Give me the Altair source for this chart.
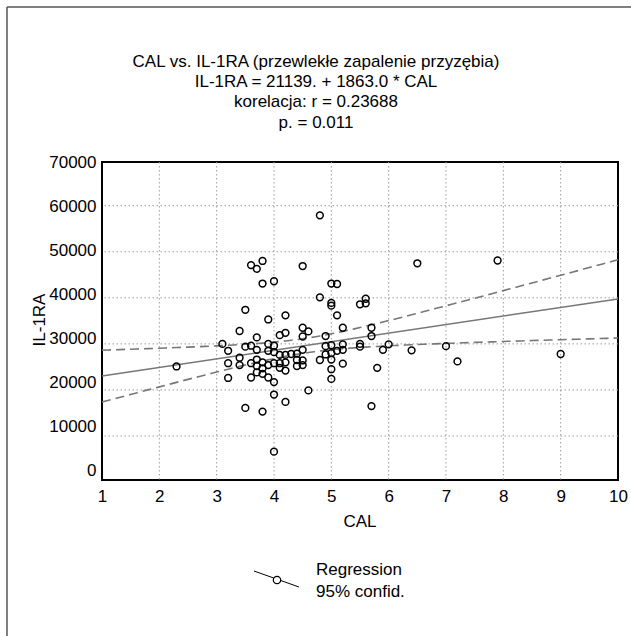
import altair as alt
import pandas as pd
import numpy as np

# ---- data ----
cal = [2.3,
       3.1,
       3.2, 3.2, 3.2,
       3.4, 3.4, 3.4,
       3.5, 3.5, 3.5,
       3.6, 3.6, 3.6, 3.6,
       3.7, 3.7, 3.7, 3.7, 3.7, 3.7,
       3.8, 3.8, 3.8, 3.8, 3.8, 3.8,
       3.9, 3.9, 3.9, 3.9, 3.9,
       4.0, 4.0, 4.0, 4.0, 4.0, 4.0, 4.0,
       4.1, 4.1, 4.1, 4.1,
       4.2, 4.2, 4.2, 4.2, 4.2, 4.2,
       4.3,
       4.4, 4.4, 4.4,
       4.5, 4.5, 4.5, 4.5, 4.5, 4.5,
       4.6, 4.6,
       4.8, 4.8, 4.8,
       4.9, 4.9, 4.9,
       5.0, 5.0, 5.0, 5.0, 5.0, 5.0, 5.0, 5.0,
       5.1, 5.1, 5.1,
       5.2, 5.2, 5.2, 5.2,
       5.5, 5.5, 5.5,
       5.6, 5.6,
       5.7, 5.7, 5.7,
       5.8, 5.9, 6.0, 6.4, 6.5, 7.0, 7.2, 7.9, 9.0]
il1ra = [25100,
         30000,
         28500, 25800, 22600,
         32800, 27000, 25400,
         37400, 29400, 16100,
         47100, 29600, 25800, 22700,
         46300, 31400, 28700, 26600, 25200, 23800,
         48000, 43100, 26000, 24700, 23500, 15300,
         35300, 30000, 28500, 25400, 22700,
         43600, 29600, 28200, 25800, 21700, 19000, 6600,
         31900, 27600, 25800, 24800,
         36200, 32400, 27600, 26000, 24200, 17400,
         27800,
         27900, 26500, 25200,
         46900, 33500, 31600, 28700, 26400, 25400,
         32700, 19900,
         57900, 40100, 26500,
         31700, 29500, 27700,
         43100, 38900, 38300, 29700, 28000, 26600, 24500, 22400,
         43000, 36200, 28500,
         33500, 29900, 28700, 25700,
         38600, 30000, 29400,
         38800, 39800,
         33500, 31700, 16500,
         24800, 28700, 29900, 28600, 47500, 29500, 26200, 48100, 27800]

x_ticks = [1, 2, 3, 4, 5, 6, 7, 8, 9, 10]
y_ticks = [0, 10000, 20000, 30000, 40000, 50000, 60000, 70000]
grid_x = [2, 3, 4, 5, 6, 7, 8, 9]
grid_y = [10000, 20000, 30000, 40000, 50000, 60000]

intercept = 21139.0
slope = 1863.0

title_lines = ["CAL vs. IL-1RA (przewlekłe zapalenie przyzębia)",
               "IL-1RA = 21139. + 1863.0 * CAL",
               "korelacja: r = 0.23688",
               "p. = 0.011"]
legend_labels = ["Regression", "95% confid."]
x_title = "CAL"
y_title = "IL-1RA"

# ---- derived: regression line and 95% confidence band ----
xa = np.array(cal, dtype=float)
ya = np.array(il1ra, dtype=float)
n = len(xa)
xbar = xa.mean()
sxx = ((xa - xbar) ** 2).sum()
resid = ya - (intercept + slope * xa)
s = np.sqrt((resid ** 2).sum() / (n - 2))
tval = 1.985
xg = np.linspace(1, 10, 91)
fit = intercept + slope * xg
hw = tval * s * np.sqrt(1.0 / n + (xg - xbar) ** 2 / sxx)
ci_df = pd.concat([
    pd.DataFrame({"x": xg, "y": fit + hw, "band": "upper"}),
    pd.DataFrame({"x": xg, "y": fit - hw, "band": "lower"}),
])
reg_df = pd.DataFrame({"x": [1.0, 10.0], "y": [intercept + slope * 1, intercept + slope * 10]})
pts = pd.DataFrame({"cal": cal, "il": il1ra})

FONT = "Liberation Sans"
FS = 17
W, H = 516, 318
xs = alt.Scale(domain=[1, 10], nice=False, zero=False)
ys = alt.Scale(domain=[448, 69488], nice=False, zero=False)
one = pd.DataFrame({"a": [0]})

x_axis = alt.Axis(values=x_ticks, format="d", labelFontSize=FS, labelFont=FONT,
                  labelColor="black", labelPadding=8, ticks=False, domain=False,
                  grid=False, title=None, labelFlush=False, labelOverlap=False)

grid_col = "#9a9a9a"
gx = alt.Chart(pd.DataFrame({"g": grid_x})).mark_rule(
    color=grid_col, strokeDash=[1.5, 2.5], strokeWidth=1).encode(
    x=alt.X("g:Q", scale=xs, axis=x_axis))
gy = alt.Chart(pd.DataFrame({"g": grid_y})).mark_rule(
    color=grid_col, strokeDash=[1.5, 2.5], strokeWidth=1).encode(
    y=alt.Y("g:Q", scale=ys, axis=None))

ci = alt.Chart(ci_df).mark_line(color="#777777", strokeDash=[9, 5], strokeWidth=1.6).encode(
    x=alt.X("x:Q", scale=xs, axis=x_axis),
    y=alt.Y("y:Q", scale=ys, axis=None),
    detail="band:N")
reg = alt.Chart(reg_df).mark_line(color="#777777", strokeWidth=1.5).encode(
    x=alt.X("x:Q", scale=xs, axis=x_axis),
    y=alt.Y("y:Q", scale=ys, axis=None))

points = alt.Chart(pts).mark_point(
    shape="circle", filled=False, color="black", size=46, strokeWidth=1.5, opacity=1).encode(
    x=alt.X("cal:Q", scale=xs, axis=x_axis),
    y=alt.Y("il:Q", scale=ys, axis=None))


def txt(t, x, y, size=FS, align="center", angle=0):
    kw = dict(font=FONT, fontSize=size, align=align, baseline="middle", color="black")
    if angle:
        kw["angle"] = angle
    return alt.Chart(one).mark_text(**kw).encode(
        x=alt.value(x), y=alt.value(y), text=alt.value(t))


title_y = [-100, -80, -60, -39]
titles = [txt(t, 214, y) for t, y in zip(title_lines, title_y)]

xt = txt(x_title, 258, 360)
yt = txt(y_title, -62, 158, angle=270)

leg_line = alt.Chart(one).mark_rule(color="black", strokeWidth=1).encode(
    x=alt.value(152), x2=alt.value(197), y=alt.value(409), y2=alt.value(425))
leg_circ = alt.Chart(one).mark_point(
    shape="circle", filled=True, fill="white", stroke="black", size=55, strokeWidth=1.2,
    opacity=1).encode(x=alt.value(175), y=alt.value(418))
leg_t1 = txt(legend_labels[0], 214, 408, align="left")
leg_t2 = txt(legend_labels[1], 214, 430, align="left")

frame_top = alt.Chart(one).mark_rule(color="#555555", strokeWidth=1.5).encode(
    x=alt.value(-95), x2=alt.value(529), y=alt.value(-155))
frame_left = alt.Chart(one).mark_rule(color="#555555", strokeWidth=1.5).encode(
    x=alt.value(-95), y=alt.value(-155), y2=alt.value(474))

main = alt.layer(gx, gy, ci, reg, points, *titles, xt, yt,
                 leg_line, leg_circ, leg_t1, leg_t2, frame_top, frame_left)

label_axis = alt.Chart(pd.DataFrame({"v": y_ticks})).mark_point(opacity=0).encode(
    y=alt.Y("v:Q", scale=alt.Scale(domain=[-2280, 70228], nice=False, zero=False),
            axis=alt.Axis(values=y_ticks, format="d", orient="left", labelFontSize=FS,
                          labelFont=FONT, labelColor="black", labelPadding=6,
                          ticks=False, domain=False, grid=False, title=None,
                          labelOverlap=False)))

chart = alt.layer(main, label_axis).resolve_scale(y="independent").properties(
    width=W, height=H,
    padding={"left": 102, "top": 162, "right": 13, "bottom": 156},
    autosize=alt.AutoSizeParams(type="none"),
    background="white",
).configure_view(stroke="black", strokeWidth=2)

chart.save("out.html", embed_options={"renderer": "svg", "actions": False})
